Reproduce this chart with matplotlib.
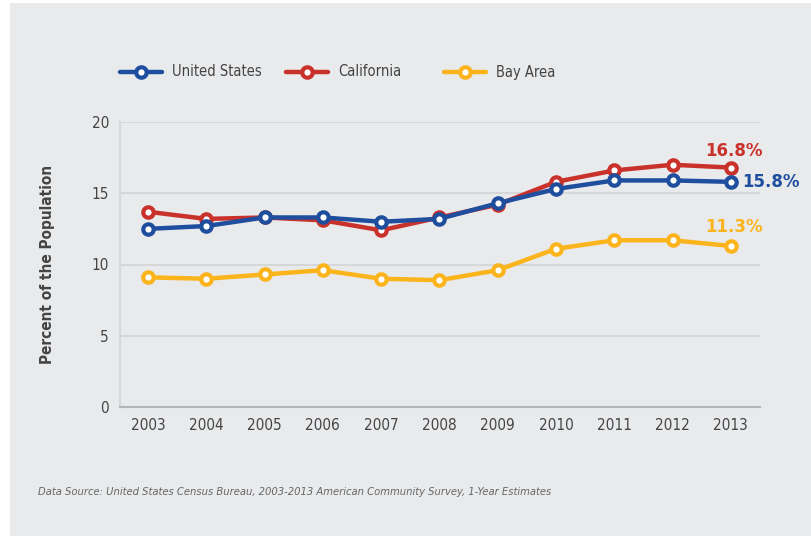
import matplotlib
matplotlib.use("Agg")
import matplotlib.pyplot as plt
from matplotlib.lines import Line2D
from matplotlib.patches import Rectangle

years = [2003, 2004, 2005, 2006, 2007, 2008, 2009, 2010, 2011, 2012, 2013]
us = [12.5, 12.7, 13.3, 13.3, 13.0, 13.2, 14.3, 15.3, 15.9, 15.9, 15.8]
ca = [13.7, 13.2, 13.3, 13.1, 12.4, 13.3, 14.2, 15.8, 16.6, 17.0, 16.8]
bay = [9.1, 9.0, 9.3, 9.6, 9.0, 8.9, 9.6, 11.1, 11.7, 11.7, 11.3]
names = ["United States", "California", "Bay Area"]
end_labels = ["15.8%", "16.8%", "11.3%"]

blue = "#1f4e9f"
red = "#c9312b"
gold = "#fbb41c"
bg = "#e9eaec"

cond = dict(family="DejaVu Sans", stretch="condensed")

fig = plt.figure(figsize=(8.12, 5.38), dpi=100)
fig.patch.set_facecolor("white")
fig.patches.append(Rectangle((10/812, 2/538), 1, 1 - 5/538, transform=fig.transFigure,
                             facecolor=bg, edgecolor="none", zorder=-10))

ax = fig.add_axes([120/812, 1 - 407/538, 640/812, 285/538])
ax.set_facecolor(bg)

style = dict(lw=3.2, marker="o", ms=7.5, mfc="white", mew=3.0, solid_capstyle="round")
ax.plot(years, bay, color=gold, **style, zorder=3)
ax.plot(years, ca, color=red, **style, zorder=4)
ax.plot(years, us, color=blue, **style, zorder=5)

ax.set_xlim(2002.52, 2013.5)
ax.set_ylim(0, 20)
ax.set_yticks([0, 5, 10, 15, 20])
ax.set_xticks(years)
ax.grid(axis="y", color="#d6d7d9", lw=1.5)
ax.set_axisbelow(True)
for s in ["top", "right"]:
    ax.spines[s].set_visible(False)
ax.spines["left"].set_color("#d6d7d9")
ax.spines["left"].set_linewidth(1.5)
ax.spines["bottom"].set_color("#b4b5b7")
ax.spines["bottom"].set_linewidth(1.5)
ax.tick_params(length=0, labelsize=11, labelcolor="#444444", pad=8)
for lab in ax.get_xticklabels() + ax.get_yticklabels():
    lab.set_fontstretch("condensed")
ax.set_ylabel("Percent of the Population", **cond, fontsize=11, fontweight="bold",
              color="#444444", labelpad=26)

ax.text(years[-1] + 0.2, us[-1], end_labels[0], color=blue, fontsize=12, fontweight="bold",
        va="center", ha="left")
ax.text(years[-1] + 0.05, ca[-1] + 1.2, end_labels[1], color=red, fontsize=12, fontweight="bold",
        va="center", ha="center")
ax.text(years[-1] + 0.05, bay[-1] + 1.3, end_labels[2], color=gold, fontsize=12, fontweight="bold",
        va="center", ha="center")

# legend drawn by hand
leg_y = 1 - 72/538
for name, col, x0, tx in [(names[0], blue, 120, 172), (names[1], red, 286, 338), (names[2], gold, 444, 496)]:
    fig.add_artist(Line2D([x0/812, (x0 + 42)/812], [leg_y, leg_y], color=col, lw=3.2,
                          solid_capstyle="round", transform=fig.transFigure))
    fig.add_artist(Line2D([(x0 + 21)/812], [leg_y], color=col, marker="o", ms=7.5, mfc="white",
                          mew=3.0, transform=fig.transFigure))
    fig.text(tx/812, leg_y, name, **cond, fontsize=10.5, color="#444444", va="center")

fig.text(38/812, 1 - 492/538,
         "Data Source: United States Census Bureau, 2003-2013 American Community Survey, 1-Year Estimates",
         **cond, fontsize=8, style="italic", color="#666666", va="center")

fig.savefig("out.png", dpi=100)
